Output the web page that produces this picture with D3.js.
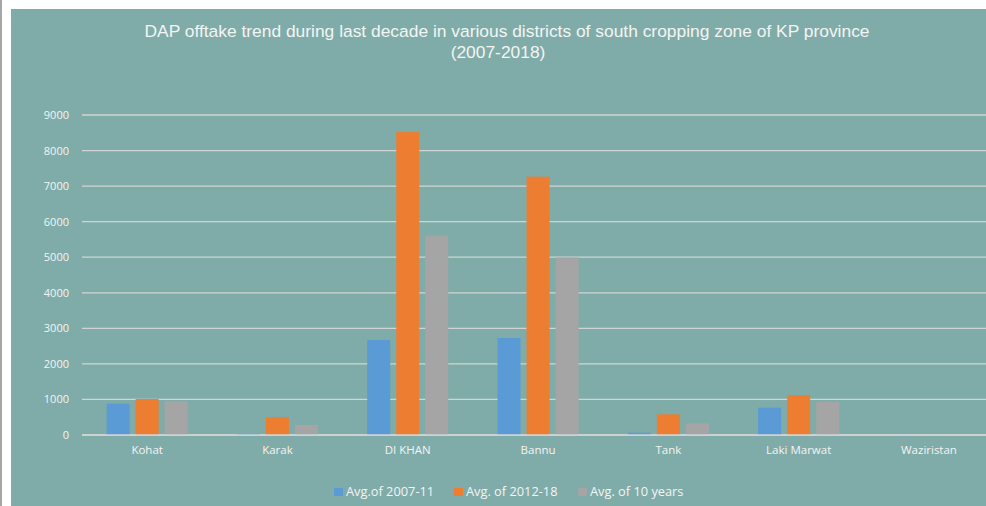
<!DOCTYPE html>
<html>
<head>
<meta charset="utf-8">
<script src="https://cdn.jsdelivr.net/npm/d3@7"></script>
<style>
  html, body { margin: 0; padding: 0; background: #ffffff; }
  svg { display: block; }
</style>
</head>
<body>
<svg id="chart" width="986" height="506"></svg>
<script>
const categories = ["Kohat", "Karak", "DI KHAN", "Bannu", "Tank", "Laki Marwat", "Waziristan"];
const seriesNames = ["Avg.of 2007-11", "Avg. of 2012-18", "Avg. of 10 years"];
const avg2007_11 = [880, 30, 2672, 2728, 65, 768, 0];
const avg2012_18 = [1012, 497, 8520, 7265, 582, 1116, 0];
const avg10years = [947, 281, 5605, 4992, 328, 937, 0];
const yTicks = [0, 1000, 2000, 3000, 4000, 5000, 6000, 7000, 8000, 9000];
const titleLines = ["DAP offtake trend during last decade in various districts of south cropping zone of KP province", "(2007-2018)"];
const colors = ["#5B9BD5", "#ED7D31", "#A5A5A5"];

const seriesValues = [avg2007_11, avg2012_18, avg10years];

const svg = d3.select("#chart");
const W = 986, H = 506;

// outer frame
svg.append("rect").attr("x", 0).attr("y", 0).attr("width", 2).attr("height", H).attr("fill", "#a6a6a6");
svg.append("rect").attr("x", 11).attr("y", 9).attr("width", W - 11).attr("height", H - 9).attr("fill", "#7FACA8");

const plotLeft = 82, y0 = 435, y9000 = 115;
const step = 130.3;
const x = d3.scaleBand().domain(categories).range([plotLeft, plotLeft + step * categories.length])
  .paddingInner(0.378).paddingOuter(0.189);
const xi = d3.scaleBand().domain(d3.range(seriesNames.length)).range([0, x.bandwidth()]).paddingInner(0.207).paddingOuter(0);
const y = d3.scaleLinear().domain([0, 9000]).range([y0, y9000]);

const font = "'Open Sans', sans-serif";
const txt = "#f4f4f4";

// gridlines
svg.append("g").selectAll("line").data(yTicks).join("line")
  .attr("x1", plotLeft).attr("x2", W)
  .attr("y1", d => y(d)).attr("y2", d => y(d))
  .attr("stroke", "#d0d5d4").attr("stroke-width", 1.3);

// y axis labels
const yAxis = d3.axisLeft(y).tickValues(yTicks).tickSize(0).tickPadding(0).tickFormat(d3.format("d"));
const gy = svg.append("g").attr("transform", `translate(69,0)`).call(yAxis);
gy.select(".domain").remove();
gy.selectAll("text").attr("fill", txt).attr("font-family", font).attr("font-size", "11px");

// bars
const groups = svg.append("g").selectAll("g").data(categories).join("g")
  .attr("transform", d => `translate(${x(d)},0)`);
groups.selectAll("rect").data((d, i) => seriesValues.map((s, k) => ({k, v: s[i]}))).join("rect")
  .attr("x", d => xi(d.k)).attr("width", xi.bandwidth())
  .attr("y", d => y(d.v)).attr("height", d => y0 - y(d.v))
  .attr("fill", d => colors[d.k]);

// x axis line (re-draw on top)
svg.append("line").attr("x1", plotLeft).attr("x2", W).attr("y1", y0).attr("y2", y0)
  .attr("stroke", "#d0d5d4").attr("stroke-width", 1.3);

// x axis labels
const xAxis = d3.axisBottom(x).tickSize(0).tickPadding(0);
const gx = svg.append("g").attr("transform", `translate(0,${y0 + 11})`).call(xAxis);
gx.select(".domain").remove();
gx.selectAll("text").attr("fill", txt).attr("font-family", font).attr("font-size", "11.5px");

// title
svg.append("g").selectAll("text").data(titleLines).join("text")
  .attr("x", (d, i) => i === 0 ? 507 : 498)
  .attr("y", (d, i) => 37 + i * 21)
  .attr("text-anchor", "middle")
  .attr("fill", txt).attr("font-family", "'Liberation Sans Narrow', sans-serif").attr("font-size", "17.4px")
  .text(d => d);

// legend
const legendX = [334, 454, 578];
const lg = svg.append("g").selectAll("g").data(seriesNames).join("g")
  .attr("transform", (d, i) => `translate(${legendX[i]},0)`);
lg.append("rect").attr("x", 0).attr("y", 488).attr("width", 9).attr("height", 8).attr("fill", (d, i) => colors[i]);
lg.append("text").attr("x", 12).attr("y", 496).attr("fill", txt).attr("font-family", font).attr("font-size", "12.8px").text(d => d);
</script>
</body>
</html>
